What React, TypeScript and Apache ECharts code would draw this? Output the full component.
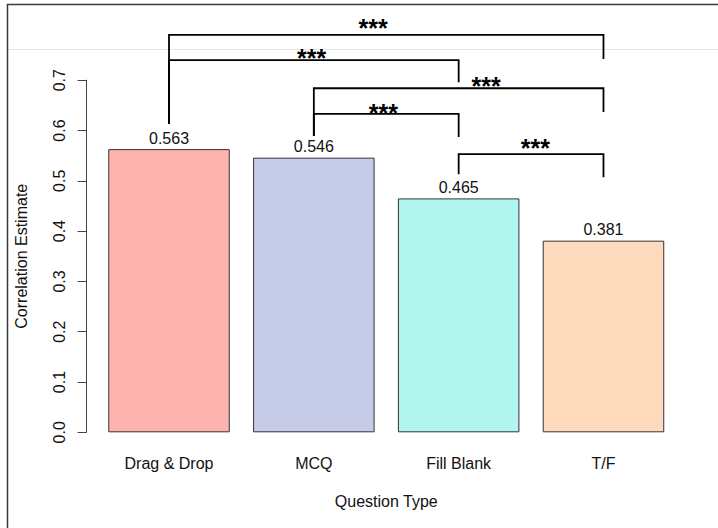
import React, { useEffect, useRef } from "react";
import * as echarts from "echarts";

const categories = ["Drag & Drop", "MCQ", "Fill Blank", "T/F"];
const estimates = [0.563, 0.546, 0.465, 0.381];
const barColors = ["#FFB3AE", "#C6CCE8", "#B1F5EE", "#FFDBBE"];
const yTicks = [0, 0.1, 0.2, 0.3, 0.4, 0.5, 0.6, 0.7];

// significance brackets (category index from/to, heights in data units)
const bracketFrom = [0, 0, 1, 1, 2];
const bracketTo = [3, 2, 3, 2, 3];
const bracketTop = [0.79, 0.74, 0.684, 0.633, 0.553];
const bracketLeftEnd = [0.613, 0.613, 0.589, 0.589, 0.513];
const bracketRightEnd = [0.742, 0.696, 0.637, 0.587, 0.507];
const starX = [1.41, 0.985, 2.19, 1.48, 2.53];
const starY = [0.814, 0.754, 0.698, 0.644, 0.575];
const starLabels = ["***", "***", "***", "***", "***"];

const FONT = "'Liberation Sans', Arial, sans-serif";

export default function App() {
  const ref = useRef<HTMLDivElement>(null);
  useEffect(() => {
    document.body.style.margin = "0";
    const chart = echarts.init(ref.current!, null, { renderer: "svg" });
    const bracketData = bracketFrom.map((f, i) => [
      f,
      bracketTo[i],
      bracketTop[i],
      bracketLeftEnd[i],
      bracketRightEnd[i],
      starX[i],
      starY[i],
      i,
    ]);
    const starSize = 25;
    chart.setOption({
      animation: false,
      backgroundColor: "#ffffff",
      textStyle: { fontFamily: FONT },
      graphic: [
        {
          type: "line",
          z: -10,
          silent: true,
          shape: { x1: 8, y1: 49.5, x2: 718, y2: 49.5 },
          style: { stroke: "#e6e6e6", lineWidth: 1 },
        },
        {
          type: "polyline",
          z: -10,
          silent: true,
          shape: { points: [[7.5, 528], [7.5, 4.5], [718, 4.5]] },
          style: { stroke: "#3a3a3a", lineWidth: 1.5, fill: null },
        },
      ],
      grid: { left: 96.6, right: 42.1, top: 80.2, bottom: 95.7, containLabel: false },
      xAxis: [
        {
          type: "category",
          data: categories,
          axisLine: { show: false },
          axisTick: { show: false },
          axisLabel: { fontSize: 16, color: "#111", margin: 23 },
          name: "Question Type",
          nameLocation: "middle",
          nameGap: 61,
          nameTextStyle: { fontSize: 16, color: "#111" },
        },
        { type: "value", min: -0.5, max: 3.5, show: false },
      ],
      yAxis: {
        type: "value",
        min: 0,
        max: 0.7,
        interval: 0.1,
        offset: 10,
        splitLine: { show: false },
        axisLine: { show: true, onZero: false, lineStyle: { color: "#444", width: 1 } },
        axisTick: { show: true, length: 9, lineStyle: { color: "#444" } },
        axisLabel: {
          fontSize: 16,
          color: "#111",
          rotate: 90,
          margin: 19,
          formatter: (v: number) => {
            const t = yTicks.find((k) => Math.abs(k - v) < 1e-9);
            return (t ?? v).toFixed(1);
          },
        },
        name: "Correlation Estimate",
        nameLocation: "middle",
        nameRotate: 90,
        nameGap: 57,
        nameTextStyle: { fontSize: 16, color: "#111" },
      },
      series: [
        {
          type: "bar",
          xAxisIndex: 0,
          barCategoryGap: "16.1%",
          data: estimates.map((v, i) => ({
            value: v,
            itemStyle: { color: barColors[i] },
          })),
          itemStyle: { borderColor: "#333", borderWidth: 1 },
          label: {
            show: true,
            position: "top",
            distance: 3,
            fontSize: 16,
            color: "#111",
            formatter: (p: any) => Number(p.value).toFixed(3),
          },
        },
        {
          type: "custom",
          xAxisIndex: 1,
          clip: false,
          silent: true,
          data: bracketData,
          renderItem: (params: any, api: any) => {
            const x1 = api.value(0);
            const x2 = api.value(1);
            const top = api.value(2);
            const le = api.value(3);
            const re = api.value(4);
            const sx = api.value(5);
            const sy = api.value(6);
            const idx = api.value(7);
            const pA = api.coord([x1, le]);
            const pB = api.coord([x1, top]);
            const pC = api.coord([x2, top]);
            const pD = api.coord([x2, re]);
            const ps = api.coord([sx, sy]);
            return {
              type: "group",
              children: [
                {
                  type: "polyline",
                  shape: { points: [pA, pB, pC, pD] },
                  style: { stroke: "#000", lineWidth: 1.8, fill: null },
                },
                {
                  type: "text",
                  style: {
                    text: starLabels[idx],
                    x: ps[0],
                    y: ps[1] + starSize * 0.2,
                    align: "center",
                    verticalAlign: "middle",
                    font: `bold ${starSize}px ${FONT}`,
                    fill: "#000",
                  },
                },
              ],
            };
          },
        },
      ],
    });
    return () => chart.dispose();
  }, []);
  return (
    <div
      ref={ref}
      style={{ position: "absolute", left: 0, top: 0, width: 718, height: 528 }}
    />
  );
}
